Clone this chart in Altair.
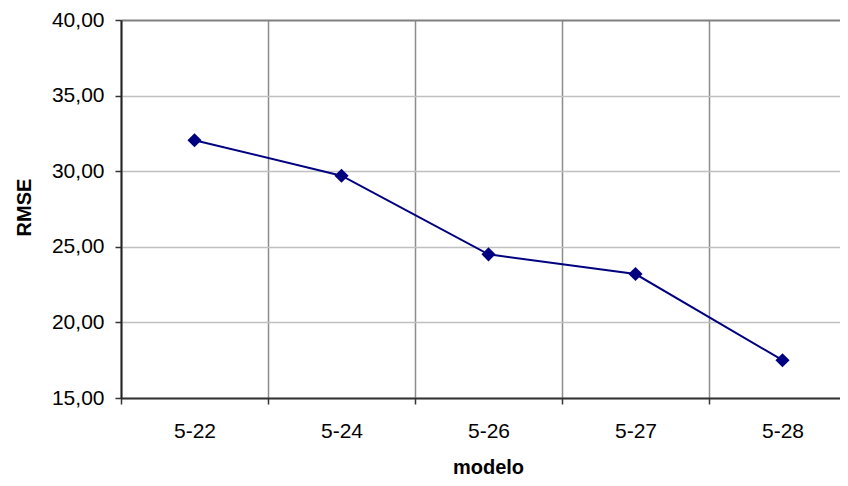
import altair as alt
import pandas as pd

modelos = ["5-22", "5-24", "5-26", "5-27", "5-28"]
rmse = [32.05, 29.70, 24.50, 23.20, 17.50]
y_ticks = [15, 20, 25, 30, 35, 40]

df = pd.DataFrame({"modelo": modelos, "RMSE": rmse})

FONT = "Liberation Sans"
NAVY = "#000080"

x_enc = alt.X(
    "modelo:N",
    sort=modelos,
    scale=alt.Scale(type="band", paddingInner=0, paddingOuter=0),
    axis=alt.Axis(
        title="modelo",
        labelAngle=0,
        labelFont=FONT,
        labelFontSize=21,
        labelColor="#000",
        labelPadding=16,
        tickBand="extent",
        tickSize=6,
        tickColor="#333",
        tickWidth=1.5,
        domainColor="#333",
        domainWidth=2,
        grid=True,
        gridColor="#8c8c8c",
        gridWidth=1.5,
        titleFont=FONT,
        titleFontSize=20,
        titleFontWeight="bold",
        titleColor="#000",
        titleX=367,
        titleY=75,
        titleBaseline="alphabetic",
        titleAlign="center",
    ),
)

y_enc = alt.Y(
    "RMSE:Q",
    scale=alt.Scale(domain=[15, 40], nice=False, zero=False),
    axis=alt.Axis(
        title="RMSE",
        values=y_ticks,
        labelExpr="replace(format(datum.value, '.2f'), '.', ',')",
        labelFont=FONT,
        labelFontSize=21,
        labelColor="#000",
        labelPadding=11,
        tickSize=6,
        tickColor="#333",
        tickWidth=1.5,
        domainColor="#222",
        domainWidth=2,
        grid=True,
        gridColor=alt.condition("datum.value == 40", alt.value("#808080"), alt.value("#c0c0c0")),
        gridWidth=alt.condition("datum.value == 40", alt.value(2), alt.value(1.5)),
        titleFont=FONT,
        titleFontSize=20,
        titleFontWeight="bold",
        titleColor="#000",
        titleAngle=270,
        titleX=-97,
        titleY=187,
        titleAlign="center",
        titleBaseline="middle",
    ),
)

base = alt.Chart(df)
line = base.mark_line(color=NAVY, strokeWidth=2).encode(x=x_enc, y=y_enc)
pts = base.mark_point(shape="diamond", filled=True, color=NAVY, size=200, opacity=1).encode(x=x_enc, y=y_enc)

chart = (
    alt.layer(line, pts)
    .properties(
        width=735,
        height=378,
        autosize=alt.AutoSizeParams(type="none"),
        padding={"left": 113, "top": 12, "right": -16, "bottom": 80},
        background="white",
    )
    .configure_view(stroke=None)
)

chart.save("out.html", embed_options={"renderer": "svg", "actions": False})
